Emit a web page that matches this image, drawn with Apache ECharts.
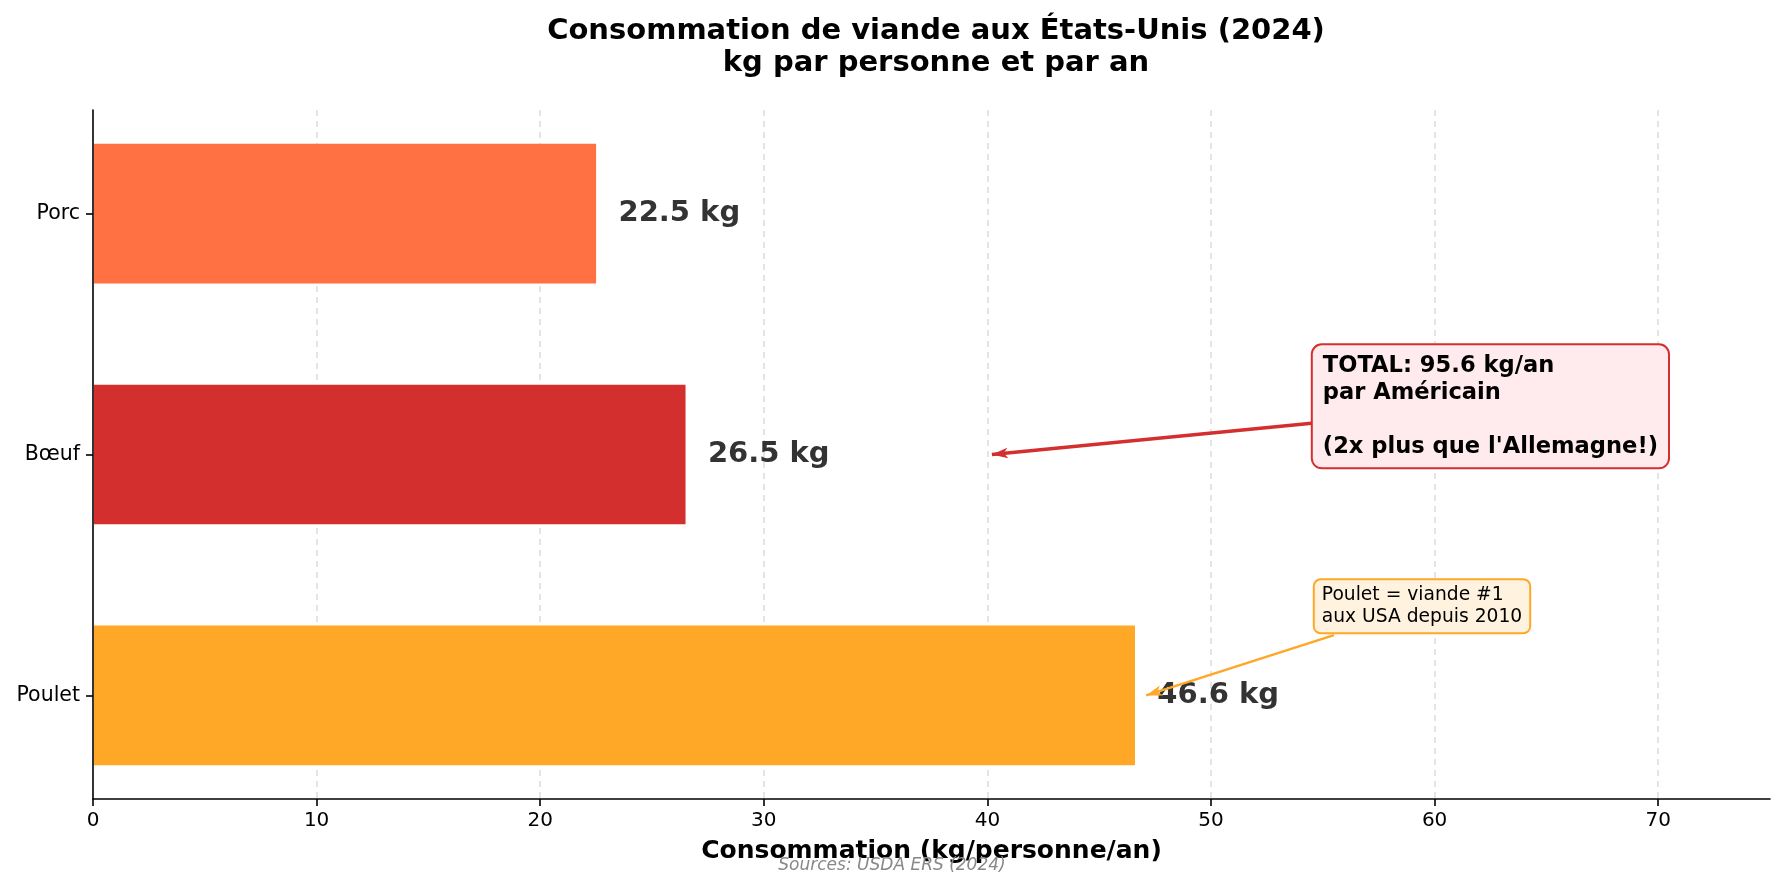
<!DOCTYPE html>
<html>
<head>
<meta charset="utf-8">
<script src="https://cdn.jsdelivr.net/npm/echarts@6/dist/echarts.min.js"></script>
<style>
  html, body { margin: 0; padding: 0; background: #fff; }
  #chart { width: 1785px; height: 890px; }
</style>
</head>
<body>
<div id="chart"></div>
<script>
// viande consommée aux USA, kg / personne / an
var categories = ['Poulet', 'Bœuf', 'Porc'];
var values = [46.6, 26.5, 22.5];
var barColors = ['#FFA726', '#D32F2F', '#FF7043'];
var xTicks = [0, 10, 20, 30, 40, 50, 60, 70];
var yTicks = [0, 1, 2];

var font = 'DejaVu Sans';
var barHeight = 0.58;

var chart = echarts.init(document.getElementById('chart'));

function renderBar(params, api) {
  var idx = api.value(1);
  var val = api.value(0);
  var start = api.coord([0, idx]);
  var end = api.coord([val, idx]);
  var h = api.size([0, barHeight])[1];
  var lab = api.coord([val + 1, idx]);
  return {
    type: 'group',
    children: [
      {
        type: 'rect',
        shape: { x: start[0] + 1, y: start[1] - h / 2, width: end[0] - start[0] - 1, height: h },
        style: { fill: barColors[idx] }
      },
      {
        type: 'text',
        x: lab[0],
        y: lab[1],
        style: {
          text: val.toFixed(1) + ' kg',
          font: 'bold 29px "' + font + '"',
          fill: '#333333',
          align: 'left',
          verticalAlign: 'middle'
        }
      }
    ]
  };
}

var option = {
  animation: false,
  backgroundColor: '#fff',
  title: {
    text: 'Consommation de viande aux États-Unis (2024)\nkg par personne et par an',
    left: 931,
    textAlign: 'center',
    top: 10,
    textStyle: { fontFamily: font, fontSize: 29, fontWeight: 'bold', color: '#000', lineHeight: 32 }
  },
  grid: { left: 93, right: 15, top: 110, bottom: 91 },
  xAxis: {
    type: 'value',
    min: 0,
    max: 75,
    interval: 10,
    name: 'Consommation (kg/personne/an)',
    nameLocation: 'middle',
    nameGap: 40,
    nameTextStyle: { fontFamily: font, fontSize: 25, fontWeight: 'bold', color: '#000' },
    axisLine: { onZero: false, lineStyle: { color: '#000', width: 1.6 } },
    axisTick: { show: true, length: 7, customValues: xTicks, lineStyle: { color: '#000', width: 1.6 } },
    axisLabel: { customValues: xTicks, margin: 12, fontFamily: font, fontSize: 20, color: '#000' },
    splitLine: {
      show: true,
      showMinLine: false,
      lineStyle: { color: '#dcdcdc', type: [6, 5], width: 1.5 }
    }
  },
  yAxis: {
    type: 'value',
    min: -0.43,
    max: 2.43,
    axisLine: { show: true, onZero: false, lineStyle: { color: '#000', width: 1.6 } },
    axisTick: { show: true, length: 7, customValues: yTicks, lineStyle: { color: '#000', width: 1.6 } },
    axisLabel: {
      customValues: yTicks,
      margin: 13,
      fontFamily: font,
      fontSize: 20.5,
      color: '#000',
      formatter: function (v) { return categories[Math.round(v)]; }
    },
    splitLine: { show: false }
  },
  series: [{
    type: 'custom',
    renderItem: renderBar,
    encode: { x: 0, y: 1 },
    data: values.map(function (v, i) { return [v, i]; }),
    markLine: {
      silent: true,
      symbol: ['none', 'arrow'],
      label: { show: false },
      data: [
        [{ coord: [54.5, 1.13], lineStyle: { color: '#D32F2F', width: 3.5, type: 'solid' }, symbolSize: 14 },
         { coord: [40.2, 1] }],
        [{ coord: [55.5, 0.25], lineStyle: { color: '#FFA726', width: 2.5, type: 'solid' }, symbolSize: 11 },
         { coord: [47.1, 0] }]
      ]
    }
  }]
};

chart.setOption(option);

// annotations
var pTotal = chart.convertToPixel({ xAxisIndex: 0, yAxisIndex: 0 }, [55, 1.2]);
var pPoulet = chart.convertToPixel({ xAxisIndex: 0, yAxisIndex: 0 }, [55, 0.37]);

chart.setOption({
  graphic: [
    {
      type: 'text',
      x: pTotal[0] - 10,
      y: pTotal[1],
      z: 100,
      style: {
        text: 'TOTAL: 95.6 kg/an\npar Américain\n\n(2x plus que l\'Allemagne!)',
        font: 'bold 22.6px "' + font + '"',
        fill: '#000',
        lineHeight: 27,
        align: 'left',
        verticalAlign: 'middle',
        backgroundColor: '#FFEBEE',
        borderColor: '#D32F2F',
        borderWidth: 2,
        borderRadius: 9,
        padding: [7, 10]
      }
    },
    {
      type: 'text',
      x: pPoulet[0] - 8,
      y: pPoulet[1],
      z: 100,
      style: {
        text: 'Poulet = viande #1\naux USA depuis 2010',
        font: '18.7px "' + font + '"',
        fill: '#000',
        lineHeight: 22,
        align: 'left',
        verticalAlign: 'middle',
        backgroundColor: '#FFF3E0',
        borderColor: '#FFA726',
        borderWidth: 2,
        borderRadius: 6,
        padding: [4, 7]
      }
    },
    {
      type: 'text',
      x: 892,
      y: 866,
      z: 100,
      style: {
        text: 'Sources: USDA ERS (2024)',
        font: 'italic 17px "' + font + '"',
        fill: '#888888',
        align: 'center',
        verticalAlign: 'middle'
      }
    }
  ]
});
</script>
</body>
</html>
